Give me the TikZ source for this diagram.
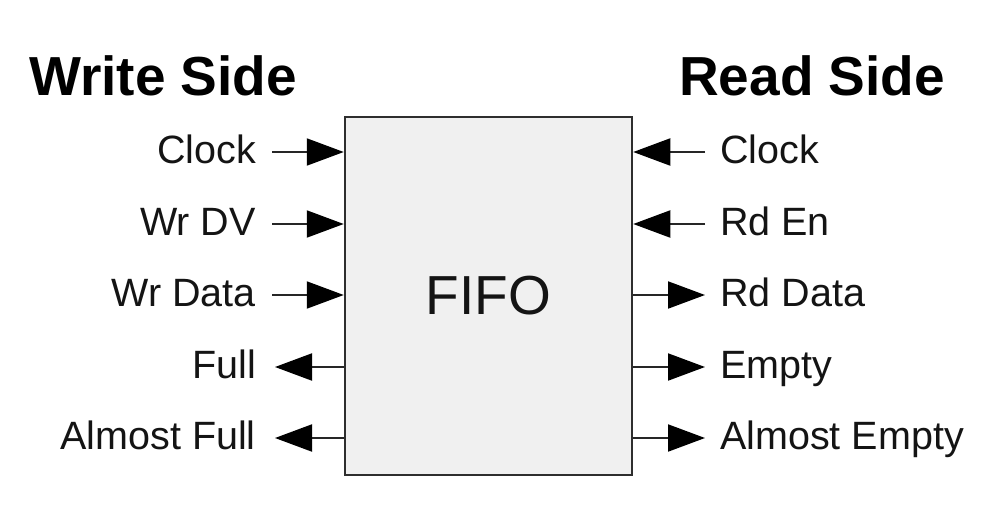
\documentclass[tikz,border=0pt]{standalone}
\usepackage{fontspec}
\setmainfont{Liberation Sans}
\usetikzlibrary{arrows.meta}
\begin{document}
\begin{tikzpicture}[x=1pt,y=-1pt,
  lbl/.style={font=\fontsize{39.5}{41}\selectfont, inner sep=0pt, text=black!92},
  ttl/.style={font=\fontsize{55}{58}\selectfont\bfseries, inner sep=0pt},
  sig/.style={line width=2pt, draw=black!85, -{Triangle[length=37pt,width=27pt,color=black]}},
  blk/.style={draw=black!82, line width=2.5pt, fill=black!6, minimum width=287pt, minimum height=358pt, inner sep=0pt, font=\fontsize{55}{58}\selectfont, text=black!92}]
\useasboundingbox (0,0) rectangle (986,517);
\fill[white] (0,0) rectangle (986,517);
\node[blk] (fifo) at (488.5,296) {FIFO};
\node[ttl, anchor=base west] (wtitle) at (29,95) {Write Side};
\node[ttl, anchor=base west] (rtitle) at (679,95) {Read Side};
% left labels
\node[lbl, anchor=base east] (wclk) at (256,163) {Clock};
\node[lbl, anchor=base east] (wdv) at (256,235) {Wr DV};
\node[lbl, anchor=base east] (wdata) at (256,306) {Wr Data};
\node[lbl, anchor=base east] (full) at (256,378) {Full};
\node[lbl, anchor=base east] (afull) at (256,449) {Almost Full};
% right labels
\node[lbl, anchor=base west] (rclk) at (720,163) {Clock};
\node[lbl, anchor=base west] (ren) at (720,235) {Rd En};
\node[lbl, anchor=base west] (rdata) at (720,306) {Rd Data};
\node[lbl, anchor=base west] (empty) at (720,378) {Empty};
\node[lbl, anchor=base west] (aempty) at (720,449) {Almost Empty};
% free ends
\coordinate (l1) at (272,152);
\coordinate (l2) at (272,224);
\coordinate (l3) at (272,295);
\coordinate (l4) at (275,367);
\coordinate (l5) at (275,438);
\coordinate (r1) at (705,152);
\coordinate (r2) at (705,224);
\coordinate (r3) at (705,295);
\coordinate (r4) at (705,367);
\coordinate (r5) at (705,438);
% connectors
\draw[sig] (l1) -- (l1 -| fifo.west);
\draw[sig] (l2) -- (l2 -| fifo.west);
\draw[sig] (l3) -- (l3 -| fifo.west);
\draw[sig] (l4 -| fifo.west) -- (l4);
\draw[sig] (l5 -| fifo.west) -- (l5);
\draw[sig] (r1) -- (r1 -| fifo.east);
\draw[sig] (r2) -- (r2 -| fifo.east);
\draw[sig] (r3 -| fifo.east) -- (r3);
\draw[sig] (r4 -| fifo.east) -- (r4);
\draw[sig] (r5 -| fifo.east) -- (r5);
\end{tikzpicture}
\end{document}
